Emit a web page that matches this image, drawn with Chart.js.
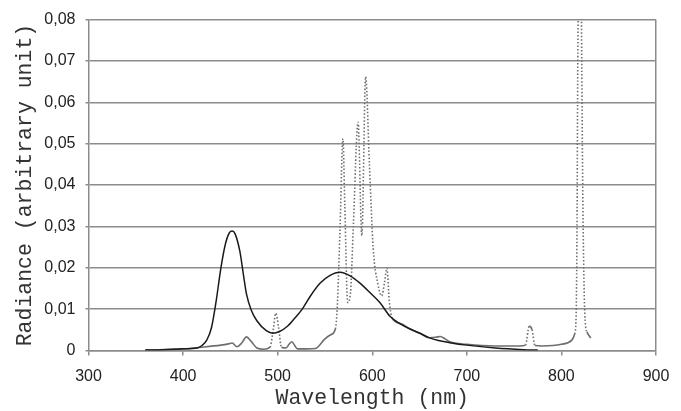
<!DOCTYPE html>
<html>
<head>
<meta charset="utf-8">
<script src="https://cdn.jsdelivr.net/npm/chart.js@4.4.1/dist/chart.umd.min.js"></script>
<style>
  html, body { margin: 0; padding: 0; background: #fff; }
  #wrap { width: 681px; height: 411px; position: relative; }
</style>
</head>
<body>
<div id="wrap"><canvas id="myChart" width="681" height="411"></canvas></div>
<script>
// LED spectrum (solid line), wavelength in nm / radiance
var ledNm = [360, 380, 400, 415, 420, 425, 430, 435, 440, 445, 449, 452, 455, 460, 464, 467, 472, 478, 488, 495,
    502, 510, 518, 526, 535, 545, 555, 566, 577, 587, 598, 608, 619, 630, 640, 651, 660, 670, 682, 700,
    730, 760, 775];
var ledVal = [0.0001, 0.0002, 0.0004, 0.0006, 0.0012, 0.0025, 0.0055, 0.012, 0.020, 0.026, 0.0285, 0.0289, 0.0282, 0.024, 0.018, 0.0137, 0.0098, 0.0072, 0.0048, 0.0042,
    0.0046, 0.0058, 0.0078, 0.0100, 0.0133, 0.0163, 0.0181, 0.0189, 0.0180, 0.0163, 0.0139, 0.0116, 0.0082, 0.0064, 0.0052, 0.0041, 0.0031, 0.0024, 0.0019, 0.0013,
    0.0006, 0.0002, 0.0001];

// lamp spectrum (dotted line)
var lampNm = [360, 380, 400, 420, 440, 448, 452, 457, 462, 467, 472, 478, 485, 492, 495, 498, 501, 504, 509, 512,
    515, 518, 521, 530, 540, 550, 556, 561, 563, 566, 569, 571, 574, 577, 580, 585, 589, 593, 597,
    601, 606, 610, 613, 615.5, 618, 621, 630, 640, 651, 660, 667, 672, 677, 682, 700, 730, 756, 762, 766,
    769, 772, 780, 800, 811, 814, 815.5, 816.5, 817.3, 818, 819.5, 821, 821.5, 822.5, 824, 825.5, 827, 831];
var lampVal = [0.0001, 0.0002, 0.0004, 0.0008, 0.0013, 0.0016, 0.0018, 0.0009, 0.0018, 0.0033, 0.0022, 0.0006, 0.0003, 0.0008, 0.0045, 0.009, 0.0055, 0.0008, 0.0006, 0.0015,
    0.0021, 0.0012, 0.0004, 0.0004, 0.0005, 0.0028, 0.0038, 0.0052, 0.0104, 0.030, 0.0512, 0.035, 0.0116, 0.014, 0.030, 0.0552, 0.0278, 0.0662, 0.045,
    0.0247, 0.016, 0.0132, 0.0165, 0.0199, 0.012, 0.0078, 0.0065, 0.0052, 0.0041, 0.0031, 0.0032, 0.0034, 0.0028, 0.0021, 0.0015, 0.0011, 0.0011, 0.0013, 0.0059,
    0.005, 0.0012, 0.0011, 0.0015, 0.0025, 0.004, 0.008, 0.030, 0.070, 0.085, 0.095, 0.085, 0.070, 0.040, 0.015, 0.006, 0.0045, 0.003];

var xTicks = [300, 400, 500, 600, 700, 800, 900];
var yTicks = [0, 0.01, 0.02, 0.03, 0.04, 0.05, 0.06, 0.07, 0.08];

function pairs(xs, ys) {
    var out = [];
    for (var i = 0; i < xs.length; i++) out.push({ x: xs[i], y: ys[i] });
    return out;
}

const ctx = document.getElementById('myChart').getContext('2d');

const myChart = new Chart(ctx, {
    type: 'line',
    data: {
        datasets: [{
            label: 'LED',
            data: pairs(ledNm, ledVal),
            borderColor: '#1a1a1a',
            borderWidth: 1.5,
            pointRadius: 0,
            cubicInterpolationMode: 'monotone',
            fill: false
        }, {
            label: 'Lamp',
            data: pairs(lampNm, lampVal),
            borderColor: '#6e6e6e',
            borderWidth: 1.6,
            pointRadius: 0,
            cubicInterpolationMode: 'monotone',
            fill: false,
            segment: {
                // steep parts look dotted, flat parts run together
                borderDash: function (c) {
                    var dx = Math.abs(c.p1.x - c.p0.x) || 0.001;
                    var dy = Math.abs(c.p1.y - c.p0.y);
                    return dy / dx > 2.5 ? [1.5, 2] : undefined;
                }
            }
        }]
    },
    options: {
        responsive: false,
        animation: false,
        layout: { padding: { left: 0, right: 25, top: 13, bottom: 0 } },
        plugins: { legend: { display: false }, tooltip: { enabled: false } },
        scales: {
            x: {
                type: 'linear',
                min: 300,
                max: 900,
                afterBuildTicks: function (s) { s.ticks = xTicks.map(function (v) { return { value: v }; }); },
                afterFit: function (s) { s.height = 60.5; },
                border: { display: true, color: '#8c8c8c', width: 1.5 },
                grid: {
                    color: function (c) { return c.tick && c.tick.value === 900 ? '#8c8c8c' : 'rgba(0,0,0,0)'; },
                    lineWidth: 1.5,
                    tickColor: '#8c8c8c',
                    tickLength: 5
                },
                ticks: {
                    color: '#222',
                    font: { family: 'Liberation Sans, Arial', size: 16 },
                    padding: 11,
                    maxRotation: 0
                },
                title: {
                    display: true,
                    text: 'Wavelength (nm)',
                    color: '#333',
                    font: { family: 'Liberation Mono, Courier New', size: 21.5 },
                    padding: { top: 0, bottom: 0 }
                }
            },
            y: {
                min: 0,
                max: 0.08,
                afterBuildTicks: function (s) { s.ticks = yTicks.map(function (v) { return { value: v }; }); },
                afterFit: function (s) { s.width = 88.5; },
                border: { display: true, color: '#8c8c8c', width: 1.5 },
                grid: {
                    color: '#8c8c8c',
                    lineWidth: 1.5,
                    tickColor: '#8c8c8c',
                    tickLength: 3
                },
                ticks: {
                    color: '#222',
                    font: { family: 'Liberation Sans, Arial', size: 16 },
                    padding: 10,
                    callback: function (v) { return v === 0 ? '0' : v.toFixed(2).replace('.', ','); }
                },
                title: {
                    display: true,
                    text: 'Radiance (arbitrary unit)',
                    color: '#333',
                    font: { family: 'Liberation Mono, Courier New', size: 21.5 },
                    padding: { top: 12, bottom: 0 }
                }
            }
        }
    }
});
</script>
</body>
</html>
